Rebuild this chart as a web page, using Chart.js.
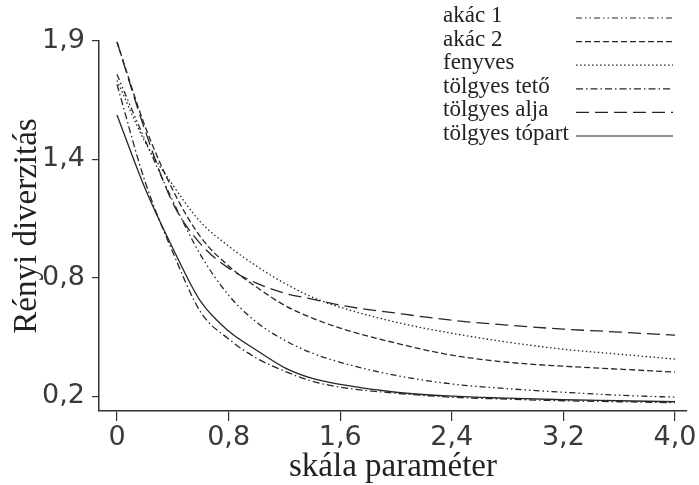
<!DOCTYPE html>
<html><head><meta charset="utf-8">
<script src="https://cdn.jsdelivr.net/npm/chart.js@4.4.1/dist/chart.umd.min.js"></script>
<style>html,body{margin:0;padding:0;background:#fff;overflow:hidden;}</style>
</head><body>
<canvas id="c" width="699" height="485"></canvas>
<script>
// ---- data ----
const scaleParams = [0, 0.2, 0.4, 0.6, 0.8, 1.0, 1.2, 1.4, 1.6, 2.0, 2.4, 2.8, 3.2, 3.6, 4.0];
const akac1        = [1.83, 1.50, 1.19, 0.915, 0.712, 0.575, 0.484, 0.418, 0.372, 0.305, 0.262, 0.238, 0.22, 0.205, 0.195];
const akac2        = [1.995, 1.57, 1.245, 1.006, 0.86, 0.753, 0.661, 0.596, 0.545, 0.469, 0.408, 0.372, 0.352, 0.337, 0.322];
const fenyves      = [1.80, 1.49, 1.27, 1.082, 0.961, 0.859, 0.773, 0.702, 0.651, 0.575, 0.519, 0.474, 0.438, 0.413, 0.388];
const tolgyesTeto  = [1.78, 1.29, 0.93, 0.626, 0.49, 0.393, 0.327, 0.276, 0.246, 0.215, 0.195, 0.185, 0.177, 0.172, 0.167];
const tolgyesAlja  = [1.995, 1.549, 1.179, 0.971, 0.849, 0.773, 0.722, 0.692, 0.661, 0.621, 0.585, 0.56, 0.54, 0.525, 0.509];
const tolgyesTopart= [1.625, 1.255, 0.95, 0.68, 0.53, 0.433, 0.345, 0.29, 0.26, 0.22, 0.2, 0.19, 0.182, 0.177, 0.172];

const seriesNames = ['akác 1', 'akác 2', 'fenyves', 'tölgyes tető', 'tölgyes alja', 'tölgyes tópart'];
const xTickValues = [0, 0.8, 1.6, 2.4, 3.2, 4.0];
const xTickLabels = ['0', '0,8', '1,6', '2,4', '3,2', '4,0'];
const yTickValues = [0.2, 0.8, 1.4, 2.0];
const yTickLabels = ['0,2', '0,8', '1,4', '1,9'];
const xTitle = 'skála paraméter';
const yTitle = 'Rényi diverzitás';

// ---- styling ----
const seriesValues = [akac1, akac2, fenyves, tolgyesTeto, tolgyesAlja, tolgyesTopart];
const dashes = [[6,3,1.5,3,1.5,3],[6,3],[1.5,2.5],[7,3,1.5,3],[13,6],[]];
const lineColor = '#262626';

const datasets = seriesNames.map((name, i) => ({
  label: name,
  data: scaleParams.map((x, j) => ({x: x, y: seriesValues[i][j]})),
  borderColor: lineColor,
  borderWidth: 1.3,
  borderDash: dashes[i],
  pointRadius: 0,
  fill: false,
  cubicInterpolationMode: 'monotone'
}));

const sideLegend = {
  id: 'sideLegend',
  afterDraw(chart) {
    const ctx = chart.ctx;
    ctx.save();
    chart.data.datasets.forEach((ds, i) => {
      const y = 16 + i * 23.6;
      ctx.font = '23px "Liberation Serif"';
      ctx.fillStyle = '#222';
      ctx.textBaseline = 'middle';
      ctx.textAlign = 'left';
      ctx.fillText(ds.label, 443, y);
      const tw = ctx.measureText(ds.label).width;
      ctx.beginPath();
      ctx.setLineDash(ds.borderDash || []);
      ctx.lineWidth = 1.2;
      ctx.strokeStyle = lineColor;
      const x0 = Math.max(576, 443 + tw + 4);
      ctx.moveTo(x0, y + 2);
      ctx.lineTo(673, y + 2);
      ctx.stroke();
    });
    ctx.restore();
  }
};

new Chart(document.getElementById('c'), {
  type: 'line',
  data: { datasets },
  plugins: [sideLegend],
  options: {
    responsive: false,
    animation: false,
    devicePixelRatio: 1,
    layout: { padding: { left: 0, right: 12, top: 41, bottom: 0 } },
    plugins: { legend: { display: false }, tooltip: { enabled: false } },
    scales: {
      x: {
        type: 'linear', min: -0.129, max: 4.086,
        afterBuildTicks: a => { a.ticks = xTickValues.map(v => ({ value: v })); },
        afterFit: a => { a.height = 74; },
        ticks: {
          callback: (v, i) => xTickLabels[i],
          font: { family: 'DejaVu Sans', size: 27 }, color: '#3a3a3a',
          padding: 1, maxRotation: 0, autoSkip: false
        },
        grid: { drawOnChartArea: false, drawTicks: true, tickLength: 10, color: '#333', lineWidth: 1.2 },
        border: { display: true, color: '#333', width: 1.5 },
        title: { display: true, text: xTitle, color: '#222',
          font: { family: 'Liberation Serif', size: 33, lineHeight: 1 }, padding: { top: 0, bottom: 1 } }
      },
      y: {
        type: 'linear', min: 0.125, max: 2.0,
        afterBuildTicks: a => { a.ticks = yTickValues.map(v => ({ value: v })); },
        afterFit: a => { a.width = 99; },
        ticks: {
          callback: (v, i) => yTickLabels[i],
          font: { family: 'DejaVu Sans', size: 27 }, color: '#3a3a3a', padding: 7, autoSkip: false
        },
        grid: { drawOnChartArea: false, drawTicks: true, tickLength: 7, color: '#333', lineWidth: 1.2 },
        border: { display: true, color: '#333', width: 1.5 },
        title: { display: true, text: yTitle, color: '#222',
          font: { family: 'Liberation Serif', size: 33, lineHeight: 1.2 }, padding: { top: 8, bottom: 0 } }
      }
    }
  }
});
</script>
</body></html>
